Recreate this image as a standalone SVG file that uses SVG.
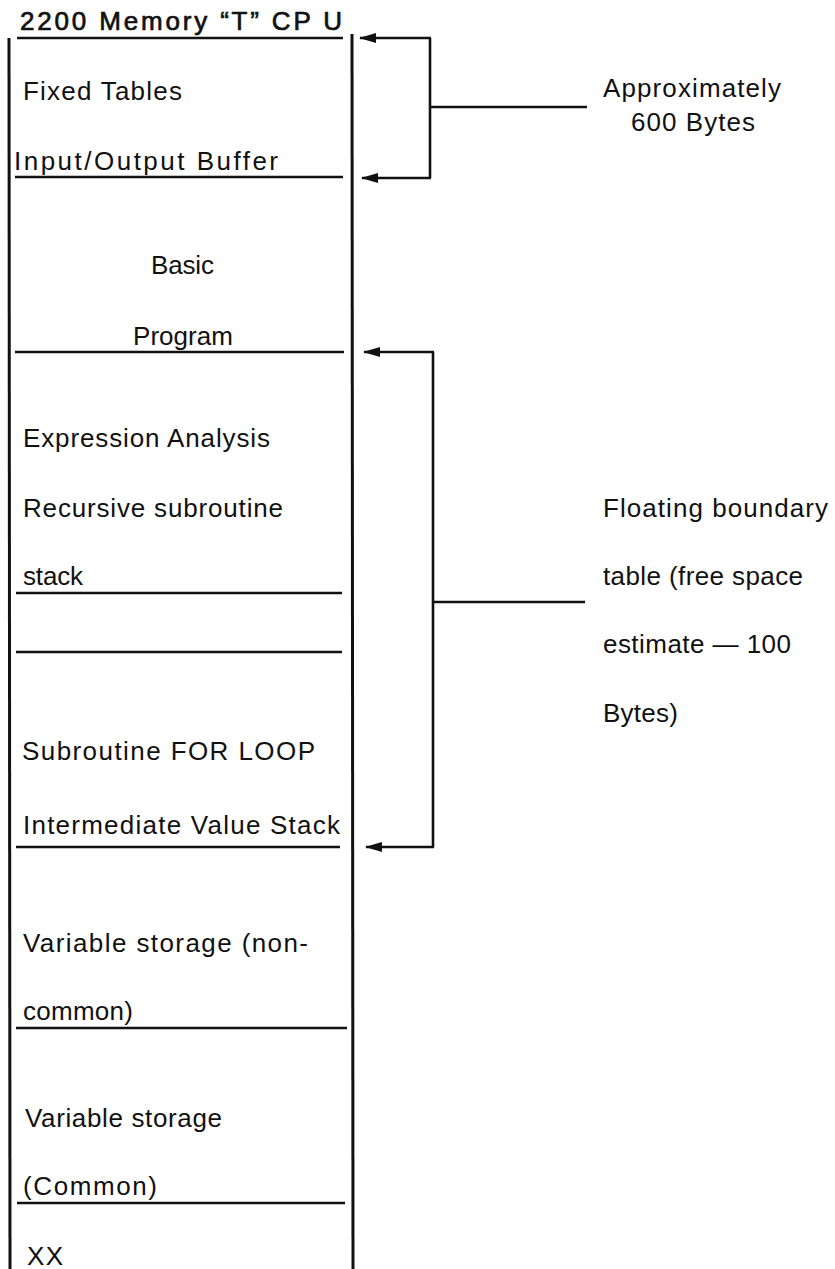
<svg xmlns="http://www.w3.org/2000/svg" width="835" height="1269" viewBox="0 0 835 1269">
  <style>
    .t { font-family: "Liberation Sans", Arial, sans-serif; font-size: 26px; fill: #111; }
    .title { stroke: #111; stroke-width: 0.7; }
    .rule { stroke: #111; stroke-width: 2.4; fill: none; }
    .wall { stroke: #111; stroke-width: 3; fill: none; }
    .conn { stroke: #111; stroke-width: 2.6; fill: none; }
  </style>
  <defs>
    <marker id="arrow" viewBox="0 0 17 10" markerWidth="17" markerHeight="10" refX="16" refY="5" markerUnits="userSpaceOnUse" orient="auto">
      <path d="M0,0 L17,5 L0,10 z" fill="#111"/>
    </marker>
  </defs>
  <rect width="835" height="1269" fill="#fff"/>

  <!-- memory column walls -->
  <g id="memory-column">
    <line class="wall" x1="9" y1="38" x2="10" y2="1269"/>
    <line class="wall" x1="352" y1="34" x2="353" y2="1269"/>
  </g>

  <g id="title">
    <text class="t title" x="20" y="30" textLength="322" lengthAdjust="spacing">2200 Memory “T” CP U</text>
    <line class="rule" x1="17" y1="38" x2="343" y2="38"/>
  </g>

  <g id="fixed-tables">
    <text class="t" x="23" y="100" textLength="159" lengthAdjust="spacing">Fixed Tables</text>
    <text class="t" x="14" y="170" textLength="264" lengthAdjust="spacing">Input/Output Buffer</text>
    <line class="rule" x1="15" y1="177" x2="343" y2="177"/>
  </g>

  <g id="basic-program">
    <text class="t" x="151" y="274" textLength="63" lengthAdjust="spacing">Basic</text>
    <text class="t" x="133" y="345" textLength="100" lengthAdjust="spacing">Program</text>
    <line class="rule" x1="15" y1="352" x2="344" y2="352"/>
  </g>

  <g id="expression-stack">
    <text class="t" x="23" y="447" textLength="247" lengthAdjust="spacing">Expression Analysis</text>
    <text class="t" x="23" y="517" textLength="260" lengthAdjust="spacing">Recursive subroutine</text>
    <text class="t" x="23" y="585" textLength="60" lengthAdjust="spacing">stack</text>
    <line class="rule" x1="16" y1="593" x2="342" y2="593"/>
  </g>

  <g id="free-space">
    <line class="rule" x1="16" y1="652" x2="342" y2="652"/>
  </g>

  <g id="value-stack">
    <text class="t" x="22" y="760" textLength="293" lengthAdjust="spacing">Subroutine FOR LOOP</text>
    <text class="t" x="23" y="834" textLength="317" lengthAdjust="spacing">Intermediate Value Stack</text>
    <line class="rule" x1="16" y1="847" x2="340" y2="847"/>
  </g>

  <g id="variables-noncommon">
    <text class="t" x="23" y="952" textLength="285" lengthAdjust="spacing">Variable storage (non-</text>
    <text class="t" x="23" y="1020" textLength="110" lengthAdjust="spacing">common)</text>
    <line class="rule" x1="16" y1="1028" x2="347" y2="1028"/>
  </g>

  <g id="variables-common">
    <text class="t" x="25" y="1127" textLength="197" lengthAdjust="spacing">Variable storage</text>
    <text class="t" x="23" y="1195" textLength="134" lengthAdjust="spacing">(Common)</text>
    <line class="rule" x1="17" y1="1203" x2="345" y2="1203"/>
  </g>

  <g id="remainder">
    <text class="t" x="27" y="1265" textLength="36" lengthAdjust="spacing">XX</text>
  </g>

  <!-- annotations -->
  <g id="note-fixed">
    <text class="t" x="603" y="97" textLength="178" lengthAdjust="spacing">Approximately</text>
    <text class="t" x="631" y="131" textLength="124" lengthAdjust="spacing">600 Bytes</text>
  </g>

  <g id="note-floating">
    <text class="t" x="603" y="517" textLength="225" lengthAdjust="spacing">Floating boundary</text>
    <text class="t" x="603" y="585" textLength="200" lengthAdjust="spacing">table (free space</text>
    <text class="t" x="603" y="653" textLength="188" lengthAdjust="spacing">estimate — 100</text>
    <text class="t" x="603" y="722" textLength="75" lengthAdjust="spacing">Bytes)</text>
  </g>

  <!-- bracket connectors -->
  <g id="connectors">
    <path class="conn" d="M430,107 H587"/>
    <path class="conn" d="M430,38 V178"/>
    <path class="conn" d="M431,38 H360" marker-end="url(#arrow)"/>
    <path class="conn" d="M431,178 H362" marker-end="url(#arrow)"/>

    <path class="conn" d="M433,602 H585"/>
    <path class="conn" d="M433,352 V847"/>
    <path class="conn" d="M434,352 H364" marker-end="url(#arrow)"/>
    <path class="conn" d="M434,847 H366" marker-end="url(#arrow)"/>
  </g>
</svg>
